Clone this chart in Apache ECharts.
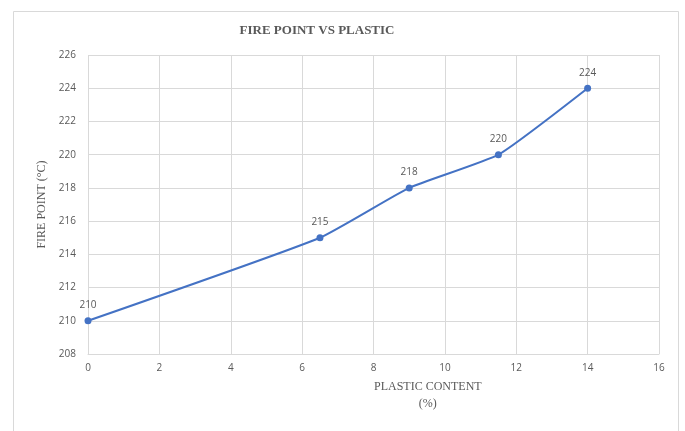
<!DOCTYPE html>
<html>
<head>
<meta charset="utf-8">
<script src="https://cdn.jsdelivr.net/npm/echarts@6/dist/echarts.min.js"></script>
<style>
  html, body { margin: 0; padding: 0; background: #ffffff; }
  #chart { width: 685px; height: 431px; }
</style>
</head>
<body>
<div id="chart"></div>
<script>
// Fire point measured against plastic content
const plasticContent = [0, 6.5, 9, 11.5, 14];
const firePoint = [210, 215, 218, 220, 224];

const xTicks = { min: 0, max: 16, step: 2 };
const yTicks = { min: 208, max: 226, step: 2 };

const chart = echarts.init(document.getElementById('chart'), null, { renderer: 'canvas' });

const gridColor = '#d9d9d9';
const textColor = '#595959';
const serif = '"Liberation Serif", "DejaVu Serif", serif';
const sans = '"Open Sans", "Noto Sans", sans-serif';

const points = plasticContent.map((x, i) => [x, firePoint[i]]);

chart.setOption({
  animation: false,
  backgroundColor: '#ffffff',
  title: {
    text: 'FIRE POINT VS PLASTIC',
    left: 312,
    top: 19,
    textAlign: 'center',
    textStyle: { fontFamily: serif, fontWeight: 'bold', fontSize: 13, color: textColor }
  },
  graphic: [
    {
      type: 'rect', silent: true, z: -1,
      shape: { x: 13.5, y: 11.5, width: 665, height: 430 },
      style: { fill: 'none', stroke: gridColor, lineWidth: 1 }
    },
    {
      type: 'text', left: 374, top: 378,
      style: {
        text: 'PLASTIC CONTENT\n(%)', textAlign: 'center', lineHeight: 17,
        font: '12px ' + serif, fill: textColor
      }
    }
  ],
  grid: { left: 88, right: 26, top: 55, bottom: 77, containLabel: false },
  xAxis: {
    type: 'value',
    min: xTicks.min, max: xTicks.max, interval: xTicks.step,
    axisLine: { show: true, lineStyle: { color: gridColor } },
    axisTick: { show: false },
    axisLabel: { color: textColor, fontFamily: sans, fontSize: 10, margin: 9 },
    splitLine: { show: true, lineStyle: { color: gridColor } }
  },
  yAxis: {
    type: 'value',
    min: yTicks.min, max: yTicks.max, interval: yTicks.step,
    name: 'FIRE POINT (°C)',
    nameLocation: 'middle',
    nameGap: 39,
    nameTextStyle: { fontFamily: serif, fontSize: 12, color: textColor },
    axisLine: { show: false },
    axisTick: { show: false },
    axisLabel: { color: textColor, fontFamily: sans, fontSize: 10, margin: 12 },
    splitLine: { show: true, lineStyle: { color: gridColor } }
  },
  series: [{
    type: 'line',
    data: points,
    smooth: 0.15,
    symbol: 'circle',
    symbolSize: 7,
    lineStyle: { color: '#4472c4', width: 2 },
    itemStyle: { color: '#4472c4' },
    label: {
      show: true, position: 'top', distance: 7,
      formatter: p => p.value[1],
      color: textColor, fontFamily: sans, fontSize: 10
    }
  }]
});
</script>
</body>
</html>
